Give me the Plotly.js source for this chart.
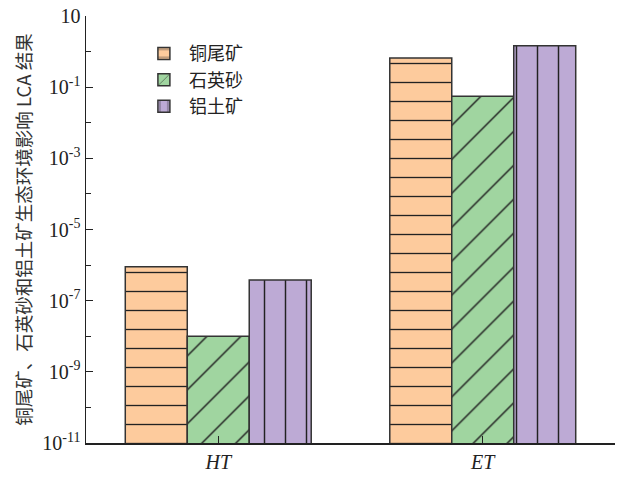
<!DOCTYPE html>
<html>
<head>
<meta charset="utf-8">
<script src="https://cdn.plot.ly/plotly-3.0.1.min.js"></script>
<style>html,body{margin:0;padding:0;background:#fff;}#chart{width:622px;height:479px;}</style>
</head>
<body>
<div id="chart"></div>
<script>
const categories = ["HT", "ET"];
const seriesNames = ["铜尾矿", "石英砂", "铝土矿"];
const copperTailings = [9e-7, 0.66];
const quartzSand = [1e-8, 0.056];
const bauxite = [3.8e-7, 1.45];
const tickVals = [10, 1e-1, 1e-3, 1e-5, 1e-7, 1e-9, 1e-11];
const tickText = ["10", "10<sup>-1</sup>", "10<sup>-3</sup>", "10<sup>-5</sup>", "10<sup>-7</sup>", "10<sup>-9</sup>", "10<sup>-11</sup>"];
const minorVals = [1, 1e-2, 1e-4, 1e-6, 1e-8, 1e-10];

const serif = "Liberation Serif, Times New Roman, serif";
const cats = categories.map(c => "<i>" + c + "</i>");

function mk(name, y, color, shape, size, solidity) {
  return {
    type: "bar", name: name, x: cats, y: y,
    marker: {
      color: color,
      line: {color: "#333", width: 1.5},
      pattern: {shape: shape, fgcolor: "#222", fgopacity: 1, bgcolor: color, size: size, solidity: solidity, fillmode: "overlay"}
    }
  };
}

const data = [
  mk(seriesNames[0], copperTailings, "#FDCB9D", "-", 19, 0.07),
  mk(seriesNames[1], quartzSand, "#A0D5A0", "/", 24, 0.06),
  mk(seriesNames[2], bauxite, "#BDAAD5", "|", 21, 0.07)
];

const layout = {
  width: 622, height: 479,
  margin: {l: 86, r: 7, t: 16, b: 36},
  paper_bgcolor: "#fff", plot_bgcolor: "#fff",
  barmode: "group", bargap: 0.297, bargroupgap: 0,
  showlegend: true,
  legend: {x: 0.1, y: 0.955, xanchor: "left", yanchor: "top", bgcolor: "rgba(0,0,0,0)",
           font: {family: "Noto Sans CJK SC, serif", size: 18, color: "#222"}, tracegroupgap: 0, itemwidth: 40},
  font: {family: serif, color: "#222"},
  xaxis: {
    showline: true, linecolor: "#222", linewidth: 1.5,
    ticks: "inside", ticklen: 7, tickcolor: "#222",
    tickfont: {family: serif, size: 20, color: "#222"},
    showgrid: false, zeroline: false
  },
  yaxis: {
    type: "log", range: [-11, 1],
    showline: true, linecolor: "#222", linewidth: 1.5,
    ticks: "inside", ticklen: 7, tickcolor: "#222",
    tickvals: tickVals, ticktext: tickText,
    tickfont: {family: serif, size: 20, color: "#222"},
    minor: {tickvals: minorVals, ticks: "inside", ticklen: 5, tickcolor: "#222", showgrid: false},
    showgrid: false, zeroline: false,
    title: {text: "铜尾矿、石英砂和铝土矿生态环境影响 LCA 结果", font: {family: "Noto Sans CJK SC, serif", size: 18.5, color: "#333"}, standoff: 6}
  }
};

Plotly.newPlot("chart", data, layout, {displayModeBar: false, staticPlot: true});
</script>
</body>
</html>
